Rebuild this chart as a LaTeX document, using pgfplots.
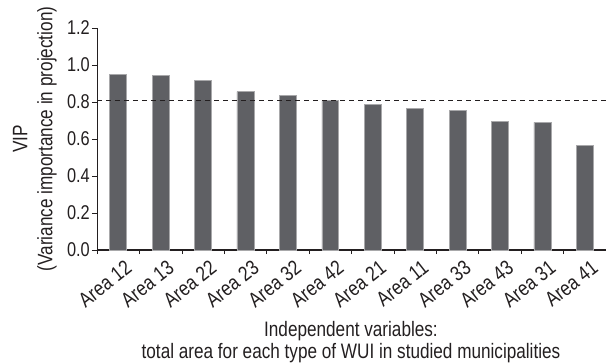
\documentclass[border=0pt]{standalone}
\usepackage{fontspec}
\setmainfont{Liberation Sans}[FakeStretch=0.82]
\usepackage{pgfplots}
\pgfplotsset{compat=1.18}
\definecolor{barfill}{HTML}{5F6064}
\definecolor{baredge}{HTML}{A8A8AA}
\definecolor{txt}{HTML}{231F20}
\begin{document}
\begin{tikzpicture}
\begin{axis}[
  scale only axis,
  width=509bp, height=222bp,
  xmin=-0.5, xmax=11.5,
  ymin=0, ymax=1.2,
  axis x line*=bottom,
  axis y line*=left,
  axis line style={txt, line width=1pt},
  x axis line style={line width=1.4pt},
  xtick={0,...,11},
  xticklabels={Area 12,Area 13,Area 22,Area 23,Area 32,Area 42,Area 21,Area 11,Area 33,Area 43,Area 31,Area 41},
  minor xtick={-0.5,0.5,...,11.5},
  major x tick style={draw=none},
  minor tick length=4bp,
  tick align=outside,
  ytick={0,0.2,...,1.2},
  major tick length=5bp,
  tick style={txt, line width=0.6pt},
  yticklabel style={/pgf/number format/fixed, /pgf/number format/fixed zerofill, /pgf/number format/precision=1, font=\fontsize{20}{20}\selectfont, text=txt, inner sep=2bp},
  /pgf/number format/assume math mode=true,
  xticklabel style={rotate=38, anchor=north east, xshift=3bp, yshift=-6bp, font=\fontsize{21}{21}\selectfont, text=txt, inner sep=1bp},
  ylabel={VIP\\(Variance importance in projection)},
  ylabel style={align=center, at={(axis description cs:-0.122,0.5)}, anchor=center, font=\fontsize{21}{25}\selectfont, text=txt, inner sep=0pt},
  xlabel={Independent variables:\\total area for each type of WUI in studied municipalities},
  xlabel style={align=center, at={(axis description cs:0.499,-0.415)}, anchor=center, font=\fontsize{21}{23}\selectfont, text=txt, inner sep=0pt},
  clip=false,
]
\addplot[ybar, bar width=0.4, fill=barfill, draw=baredge, line width=0.6pt] coordinates {
  (0,0.951) (1,0.942) (2,0.917) (3,0.856) (4,0.834) (5,0.807)
  (6,0.785) (7,0.766) (8,0.753) (9,0.697) (10,0.690) (11,0.564)
};
\addplot[txt, line width=0.8pt, dash pattern=on 5bp off 4bp] coordinates {(-0.5,0.81) (11.5,0.81)};
\end{axis}
\pgfresetboundingbox
\path (-97bp,-114bp) rectangle (509bp,250bp);
\end{tikzpicture}
\end{document}
